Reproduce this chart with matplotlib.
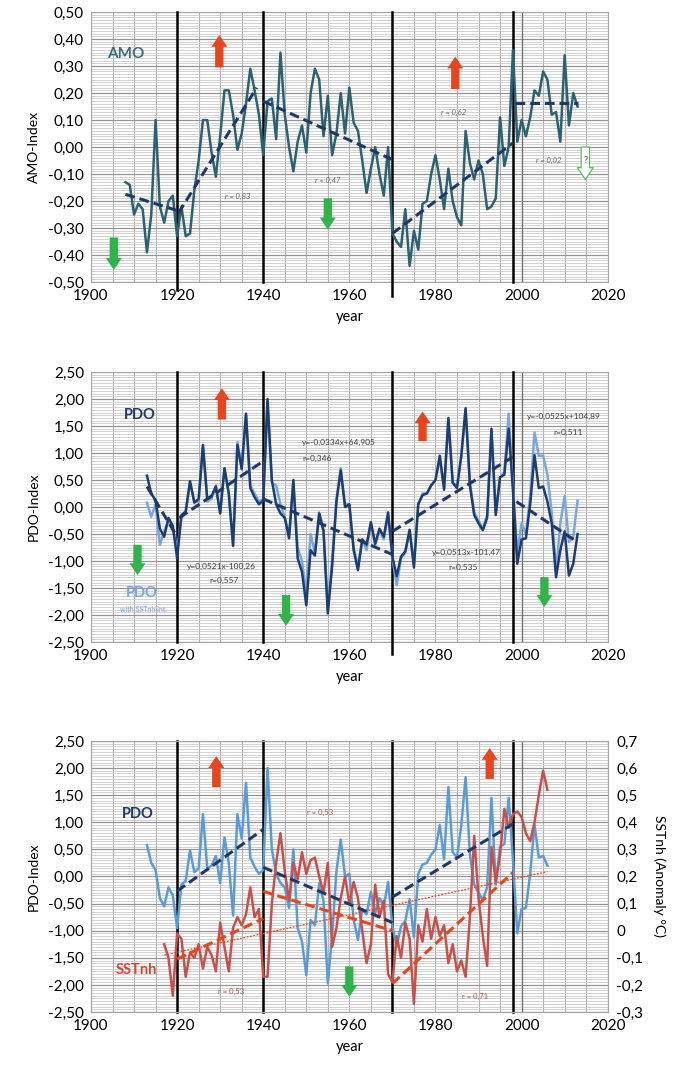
import numpy as np
import matplotlib.pyplot as plt
from matplotlib.ticker import MultipleLocator, FuncFormatter

plt.rcParams['font.family'] = ['Lato', 'DejaVu Sans']

# ---- data ----
amo_years = list(range(1908, 2014))
amo = [-0.13, -0.14, -0.25, -0.21, -0.23, -0.39, -0.25, 0.10, -0.22, -0.28,
       -0.20, -0.18, -0.33, -0.22, -0.33, -0.32, -0.16, -0.05, 0.10, 0.10,
       -0.02, -0.11, 0.04, 0.21, 0.21, 0.12, -0.01, 0.05, 0.16, 0.29,
       0.21, 0.12, -0.03, 0.17, 0.18, 0.03, 0.35, 0.12, 0.00, -0.09,
       0.02, 0.08, -0.02, 0.20, 0.29, 0.25, 0.04, 0.19, -0.03, 0.05,
       0.20, 0.05, 0.22, 0.09, 0.06, -0.05, -0.17, -0.08, 0.00, -0.10,
       -0.18, 0.00, -0.32, -0.35, -0.37, -0.23, -0.44, -0.31, -0.38, -0.21,
       -0.20, -0.10, -0.03, -0.12, -0.23, -0.08, -0.20, -0.26, -0.29, 0.06,
       -0.06, -0.12, -0.05, -0.10, -0.23, -0.22, -0.19, 0.11, -0.07, 0.00,
       0.36, 0.02, 0.10, 0.04, 0.11, 0.21, 0.19, 0.28, 0.25, 0.12,
       0.13, 0.02, 0.34, 0.08, 0.20, 0.15]

# AMO trend segments: (x0, y0, x1, y1)
amo_trends = [(1908, -0.175, 1920, -0.235),
              (1920.3, -0.245, 1938.5, 0.22),
              (1940, 0.17, 1969.8, -0.045),
              (1970, -0.32, 1998, 0.015),
              (1998.5, 0.165, 2013, 0.165)]

pdo_years = list(range(1913, 2014))
pdo = [0.58, 0.25, 0.12, -0.40, -0.55, -0.20, -0.35, -0.95, -0.15, -0.08,
       0.48, 0.08, 0.15, 1.15, 0.15, 0.20, 0.38, -0.12, 0.72, 0.25,
       -0.72, 1.15, 0.70, 1.73, 0.35, 0.18, 0.05, 0.12, 2.00, 0.50,
       0.05, -0.12, -0.20, -0.58, 0.50, -0.95, -1.20, -1.82, -0.80, -0.90,
       -0.12, -0.45, -1.97, -1.10, 0.10, 0.68, 0.00, 0.05, -0.80, -1.17,
       -0.60, -0.70, -0.28, -0.68, -0.40, -0.55, -0.10, -0.92, -1.28, -0.92,
       -0.82, -0.42, -1.12, 0.05, 0.22, 0.25, 0.40, 0.50, 0.95, 0.32,
       1.65, 0.45, 0.35, 0.95, 1.83, 0.40, -0.15, -0.30, -0.43, -0.20,
       1.45, -0.15, 0.55, 0.60, 1.45, 0.30, -1.05, -0.60, -0.58, 0.05,
       0.96, 0.35, 0.38, 0.10, -0.30, -1.30, -0.80, -0.45, -1.27, -1.05,
       -0.50]
pdo_sst = [0.08, -0.18, 0.05, -0.70, -0.45, -0.25, -0.40, -0.80, -0.20, -0.10,
           0.45, 0.10, 0.10, 1.10, 0.10, 0.15, 0.40, -0.10, 0.70, 0.25,
           -0.70, 1.20, 0.75, 1.70, 0.40, 0.25, 0.10, 0.15, 1.95, 0.45,
           0.40, 0.05, -0.20, -0.50, 0.45, -0.75, -1.00, -1.60, -0.50, -0.85,
           -0.10, -0.40, -1.90, -1.00, 0.15, 0.72, 0.05, 0.05, -0.75, -1.10,
           -0.60, -0.80, -0.30, -0.70, -0.45, -0.60, -0.15, -0.95, -1.45, -0.95,
           -0.85, -0.45, -1.05, 0.05, 0.25, 0.25, 0.40, 0.50, 0.90, 0.35,
           1.60, 0.45, 0.40, 0.95, 1.80, 0.45, -0.10, -0.25, -0.40, -0.15,
           1.40, -0.10, 0.55, 0.65, 1.73, 0.40, -0.85, -0.30, -0.50, 0.20,
           1.38, 0.95, 0.95, 0.60, -0.10, -1.20, -0.30, 0.20, -0.65, -0.55,
           0.12]

pdo_trends = [(1913, 0.38, 1920, -0.55),
              (1920.5, -0.20, 1940, 0.85),
              (1940, 0.15, 1970, -0.88),
              (1970, -0.45, 1998, 0.93),
              (1998.8, 0.10, 2013, -0.65)]

# panel 3: PDO up to 2006 and SSTnh anomaly
pdo3_years = list(range(1913, 2007))
pdo3 = pdo[:93] + [0.20]
sst_years = list(range(1917, 2007))
sst = [-0.05, -0.10, -0.24, -0.01, -0.03, -0.17, -0.08, -0.10, -0.05, -0.14,
       -0.06, -0.09, -0.15, 0.03, -0.06, -0.15, 0.01, 0.05, 0.02, 0.06,
       0.16, 0.05, 0.08, -0.17, -0.17, 0.10, 0.25, 0.36, 0.22, 0.11,
       0.25, 0.19, 0.29, 0.21, 0.26, 0.27, 0.20, 0.14, 0.25, -0.06,
       0.01, 0.12, 0.20, 0.10, 0.18, 0.12, 0.00, -0.12, -0.05, 0.17,
       0.05, 0.11, -0.16, -0.19, -0.02, -0.10, 0.03, -0.03, -0.27, 0.02,
       -0.04, 0.08, -0.03, 0.05, -0.02, 0.02, -0.12, -0.05, -0.15, -0.11,
       -0.17, 0.05, 0.35, 0.12, -0.02, -0.13, 0.31, 0.18, 0.28, 0.45,
       0.38, 0.43, 0.44, 0.42, 0.36, 0.33, 0.40, 0.50, 0.59, 0.52]

pdo3_trends = [(1920, -0.27, 1940, 0.87),
               (1940, 0.17, 1970, -0.85),
               (1970, -0.38, 1998, 0.97)]
sst_trends = [(1920, -0.105, 1940, 0.045),
              (1940, 0.145, 1970, 0.0),
              (1970, -0.195, 1998, 0.215)]
sst_longtrend = (1917, -0.09, 2006, 0.218)

split_years = [1920, 1940, 1970, 1998]

# colours
AMO_C = '#2b6170'
NAVY = '#1f3864'
PDO_D = '#1d3d72'
PDO_L = '#7aa6dc'
PDO_B = '#5b9bd5'
SST_C = '#c9504a'
RED_AR = '#e8451e'
GREEN = '#2fb34a'
TXT = '#404040'


def comma(dec):
    def f(v, p):
        v = round(v, dec) + 0.0
        if dec == 1 and abs(v) < 1e-9:
            return '0'
        return f'{v:.{dec}f}'.replace('.', ',')
    return FuncFormatter(f)


def setup(ax, lo, hi, major, minor, ylabel, long_lines=None):
    long_lines = long_lines or {}
    ax.set_xlim(1900, 2020)
    ax.set_ylim(lo, hi)
    ax.xaxis.set_major_locator(MultipleLocator(20))
    ax.xaxis.set_minor_locator(MultipleLocator(5))
    ax.yaxis.set_major_locator(MultipleLocator(major))
    ax.yaxis.set_minor_locator(MultipleLocator(minor))
    ax.yaxis.set_major_formatter(comma(2))
    ax.set_axisbelow(True)
    ax.grid(which='minor', axis='y', color='#c6c6c6', lw=0.55)
    ax.grid(which='major', axis='y', color='#949494', lw=0.9)
    ax.grid(which='both', axis='x', color='#b0b0b0', lw=0.8)
    ax.tick_params(which='both', length=0, labelsize=11, pad=5)
    for s in ax.spines.values():
        s.set_color('#a6a6a6')
        s.set_linewidth(0.8)
    ax.set_ylabel(ylabel, fontsize=10, labelpad=6)
    ax.set_xlabel('year', fontsize=10.5, labelpad=5)
    for x in split_years:
        ext = long_lines.get(x, 0.0)
        ax.axvline(x, ymin=-ext, color='black', lw=1.8, zorder=3, clip_on=False)
    ax.axvline(2000, color='#6e6e6e', lw=0.9, zorder=2)


def arrow(ax, x, y0, y1, color, hollow=False, trans=None):
    kw = {}
    if trans is not None:
        kw = dict(xycoords=trans, textcoords=trans)
    ax.annotate('', xy=(x, y1), xytext=(x, y0),
                arrowprops=dict(arrowstyle='simple,head_length=0.85,head_width=1.15,tail_width=0.6',
                                fc='white' if hollow else color, ec=color,
                                lw=0.9 if hollow else 0,
                                shrinkA=0, shrinkB=0, mutation_scale=10),
                zorder=6, **kw)


def trends(ax, segs, color, lw=2.2, dash=(3.2, 1.6), trans=None):
    kw = {} if trans is None else dict(transform=trans)
    for x0, y0, x1, y1 in segs:
        ax.plot([x0, x1], [y0, y1], color=color, lw=lw, dashes=dash,
                zorder=5, **kw)


fig = plt.figure(figsize=(6.79, 10.70), dpi=100)
ax1 = fig.add_axes([0.134, 0.7364, 0.761, 0.2523])
ax2 = fig.add_axes([0.134, 0.4000, 0.761, 0.2523])
ax3 = fig.add_axes([0.134, 0.0542, 0.761, 0.2533])

# ---- AMO ----
setup(ax1, -0.5, 0.5, 0.1, 0.01, 'AMO-Index', long_lines={1920: 0.03, 1970: 0.05})
ax1.plot(amo_years, amo, color=AMO_C, lw=1.8, zorder=4, solid_joinstyle='round')
trends(ax1, amo_trends, NAVY)
ax1.text(1908, 0.345, 'AMO', color='#3e6f7c', fontsize=11, fontweight='bold',
         ha='center', va='center')
for x, y, s in [(1934, -0.184, 'r = 0,83'), (1955, -0.122, 'r = 0,47'),
                (1984.3, 0.13, 'r = 0,62'), (2006.3, -0.05, 'r = 0,02')]:
    ax1.text(x, y, s, fontsize=5.5, color='#6a6a6a', ha='center', va='center',
             style='italic')
arrow(ax1, 1929.8, 0.295, 0.415, RED_AR)
arrow(ax1, 1984.6, 0.215, 0.335, RED_AR)
arrow(ax1, 1905.3, -0.335, -0.455, GREEN)
arrow(ax1, 1955.0, -0.19, -0.305, GREEN)
arrow(ax1, 2014.8, 0.0, -0.12, '#5cbf5c', hollow=True)
ax1.text(2014.8, -0.05, '?', fontsize=6.5, color='#404040', ha='center',
         va='center', zorder=7)

# ---- PDO ----
setup(ax2, -2.5, 2.5, 0.5, 0.05, 'PDO-Index', long_lines={1970: 0.045})
ax2.plot(pdo_years, pdo_sst, color=PDO_L, lw=1.8, zorder=4)
ax2.plot(pdo_years, pdo, color=PDO_D, lw=1.8, zorder=4)
trends(ax2, pdo_trends, NAVY)
ax2.text(1911.3, 1.70, 'PDO', color=NAVY, fontsize=10.5, fontweight='bold',
         ha='center', va='center')
ax2.text(1911.8, -1.60, 'PDO', color=PDO_L, fontsize=10.5, fontweight='bold',
         ha='center', va='center')
ax2.text(1912.3, -1.90, 'with SSTnh int.', color=PDO_L, fontsize=5,
         ha='center', va='center')
for x, y, s, ha in [(1930.2, -1.10, 'y=0,0521x-100,26', 'center'),
                    (1931.0, -1.36, 'r=0,557', 'center'),
                    (1949.0, 1.19, 'y=-0,0334x+64,905', 'left'),
                    (1949.0, 0.90, 'r=0,346', 'left'),
                    (1987.2, -0.85, 'y=0,0513x-101,47', 'center'),
                    (1986.3, -1.12, 'r=0,535', 'center'),
                    (2009.7, 1.67, 'y=-0,0525x+104,89', 'center'),
                    (2010.9, 1.38, 'r=0,511', 'center')]:
    ax2.text(x, y, s, fontsize=6, color=TXT, ha=ha, va='center')
arrow(ax2, 1930.4, 1.62, 2.20, RED_AR)
arrow(ax2, 1977.0, 1.22, 1.77, RED_AR)
arrow(ax2, 1910.8, -0.70, -1.26, GREEN)
arrow(ax2, 1945.3, -1.63, -2.20, GREEN)
arrow(ax2, 2005.3, -1.30, -1.85, GREEN)

# ---- PDO + SSTnh ----
setup(ax3, -2.5, 2.5, 0.5, 0.05, 'PDO-Index')
ax3r = ax3.twinx()
ax3r.set_ylim(-0.3, 0.7)
ax3r.yaxis.set_major_locator(MultipleLocator(0.1))
ax3r.yaxis.set_major_formatter(comma(1))
ax3r.tick_params(length=0, labelsize=11, pad=6)
for s in ax3r.spines.values():
    s.set_color('#a6a6a6')
    s.set_linewidth(0.8)
ax3r.set_ylabel('SSTnh (Anomaly °C)', rotation=270, fontsize=10, labelpad=16)

tr = ax3.transData
ax3r.plot(pdo3_years, pdo3, color=PDO_B, lw=1.8, zorder=3, transform=tr)
ax3r.plot(sst_years, sst, color=SST_C, lw=1.8, zorder=4)
x0, y0, x1, y1 = sst_longtrend
ax3r.plot([x0, x1], [y0, y1], color=RED_AR, lw=0.9, dashes=(1.5, 1.2), zorder=5)
trends(ax3r, sst_trends, RED_AR)
trends(ax3r, pdo3_trends, NAVY, trans=tr)
ax3r.text(1910.9, 1.16, 'PDO', color=NAVY, fontsize=10.5, fontweight='bold',
          ha='center', va='center', transform=tr)
ax3r.text(1910.5, -1.73, 'SSTnh', color='#d2493a', fontsize=10.5,
          fontweight='bold', ha='center', va='center', transform=tr)
for x, y, s in [(1953.1, 1.18, 'r = 0,53'), (1932.6, -2.12, 'r = 0,53'),
                (1989.1, -2.22, 'r = 0,71')]:
    ax3r.text(x, y, s, fontsize=5.5, color='#b5514a', ha='center',
              va='center', transform=tr)
arrow(ax3r, 1929.1, 1.65, 2.22, RED_AR, trans=tr)
arrow(ax3r, 1992.6, 1.80, 2.37, RED_AR, trans=tr)
arrow(ax3r, 1960.0, -1.66, -2.22, GREEN, trans=tr)

fig.savefig('out.png', dpi=100)
